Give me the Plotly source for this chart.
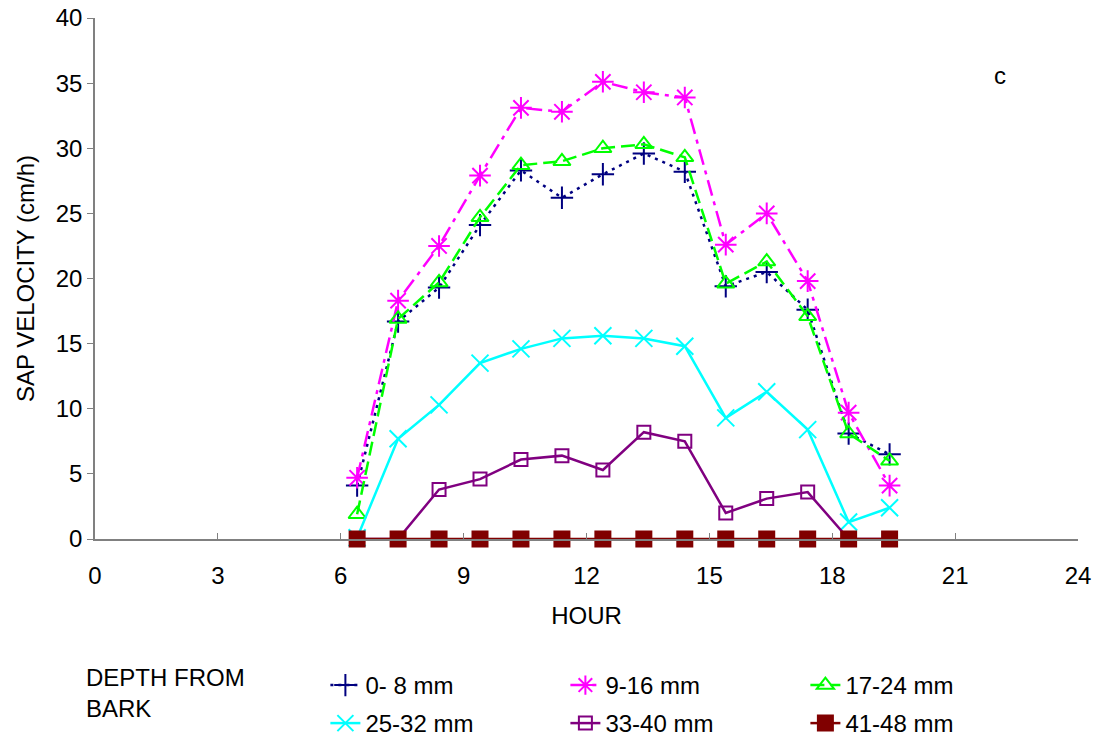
import plotly.graph_objects as go

hours = [6.4, 7.4, 8.4, 9.4, 10.4, 11.4, 12.4, 13.4, 14.4, 15.4, 16.4, 17.4, 18.4, 19.4]

d0_8 = [4.1, 16.7, 19.3, 24.1, 28.3, 26.2, 28.0, 29.6, 28.2, 19.4, 20.5, 17.6, 8.1, 6.5]
d9_16 = [4.7, 18.3, 22.5, 27.9, 33.1, 32.8, 35.1, 34.3, 33.9, 22.6, 25.0, 19.8, 9.7, 4.1]
d17_24 = [1.9, 16.9, 19.7, 24.7, 28.7, 29.0, 30.0, 30.3, 29.3, 19.6, 21.3, 17.1, 8.1, 6.0]
d25_32 = [0.1, 7.7, 10.3, 13.5, 14.6, 15.4, 15.6, 15.4, 14.8, 9.3, 11.3, 8.4, 1.3, 2.4]
d33_40 = [0.0, 0.0, 3.8, 4.6, 6.1, 6.4, 5.3, 8.2, 7.5, 2.0, 3.1, 3.6, 0.0, 0.0]
d41_48 = [0.0] * 14

names = ["0- 8 mm", "9-16 mm", "17-24 mm", "25-32 mm", "33-40 mm", "41-48 mm"]
series = [d0_8, d9_16, d17_24, d25_32, d33_40, d41_48]
colors = ["#000080", "#FF00FF", "#00FF00", "#00FFFF", "#800080", "#800000"]
dashes = ["3px,5px", "16px,6px,4px,6px", "14px,6px", "solid", "solid", "solid"]
symbols = ["cross-thin-open", "asterisk-open", "triangle-up-open", "x-thin-open", "square-open", "square"]
sizes = [16, 18, 15, 17, 13, 15]
legend_ids = ["legend", "legend", "legend", "legend2", "legend2", "legend2"]

x_ticks = [0, 3, 6, 9, 12, 15, 18, 21, 24]
y_ticks = [0, 5, 10, 15, 20, 25, 30, 35, 40]

fig = go.Figure()
for name, ys, c, d, s, sz, lg in zip(names, series, colors, dashes, symbols, sizes, legend_ids):
    fig.add_trace(go.Scatter(
        x=hours, y=ys, name=name, mode="lines+markers",
        line=dict(color=c, width=2.5, dash=d),
        marker=dict(symbol=s, size=sz, color=c, line=dict(color=c, width=2)),
        cliponaxis=False, legend=lg,
    ))

FAM = "Liberation Sans, Arial, sans-serif"
font = dict(family=FAM, size=24, color="black")
PAD = "&nbsp;" * 35

W, H = 1104, 740
L, T = 95, 18
PW, PH = 983, 521


def py(fig_y):
    return -(fig_y - (T + PH)) / PH


leg_common = dict(
    orientation="h", x=(82 - L) / PW, xanchor="left", yanchor="top",
    font=font, entrywidth=195, entrywidthmode="pixels",
    bgcolor="rgba(0,0,0,0)",
    title=dict(text=PAD, side="left", font=font),
)

fig.update_layout(
    width=W, height=H,
    margin=dict(l=L, r=W - L - PW, t=T, b=H - T - PH, autoexpand=False),
    plot_bgcolor="white", paper_bgcolor="white",
    font=font,
    showlegend=True,
    legend=dict(leg_common, y=py(663)),
    legend2=dict(leg_common, y=py(701)),
    xaxis=dict(
        range=[0, 24], tickvals=x_ticks, ticktext=[str(v) for v in x_ticks],
        ticks="inside", ticklen=6, tickcolor="#808080",
        showline=True, linecolor="#808080", linewidth=1.5,
        showgrid=False, zeroline=False, automargin=False,
        ticklabelstandoff=14, ticklabeloverflow="allow",
        title=dict(text="HOUR", font=font, standoff=20),
        tickfont=font,
    ),
    yaxis=dict(
        range=[0, 40], tickvals=y_ticks, ticktext=[str(v) for v in y_ticks],
        ticks="outside", ticklen=6, tickcolor="#808080",
        showline=True, linecolor="#808080", linewidth=1.5,
        showgrid=False, zeroline=False, automargin=False,
        ticklabeloverflow="allow",
        title=dict(text="SAP VELOCITY (cm/h)", font=font, standoff=14),
        tickfont=font,
    ),
    annotations=[
        dict(text="c", xref="paper", yref="paper", x=(1000 - L) / PW, y=py(75),
             xanchor="center", yanchor="middle", showarrow=False, font=font),
        dict(text="DEPTH FROM<br>BARK", xref="paper", yref="paper",
             x=(84 - L) / PW, y=py(693), xanchor="left", yanchor="middle",
             align="left", showarrow=False, font=font),
    ],
)

fig.write_html(
    "out.html",
    config={"displayModeBar": False},
    post_script="document.body.style.margin='0';document.body.style.overflow='hidden';",
)
